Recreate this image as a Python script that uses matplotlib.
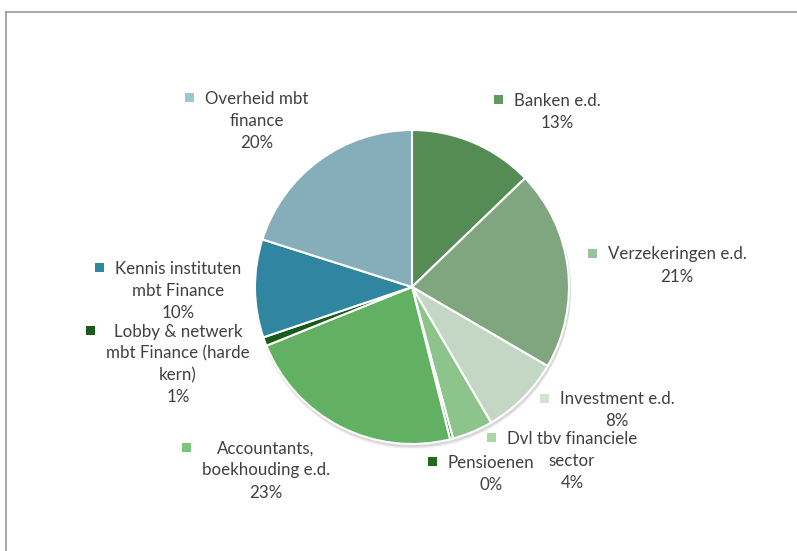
import matplotlib
matplotlib.use("Agg")
import matplotlib.pyplot as plt
from matplotlib.patches import Circle, Rectangle

plt.rcParams['font.family'] = ['Lato', 'DejaVu Sans']

# data
categories = ["Banken e.d.", "Verzekeringen e.d.", "Investment e.d.",
              "Dvl tbv financiele\nsector", "Pensioenen",
              "Accountants,\nboekhouding e.d.",
              "Lobby & netwerk\nmbt Finance (harde\nkern)",
              "Kennis instituten\nmbt Finance", "Overheid mbt\nfinance"]
shares = [12.8, 20.6, 8.2, 4.2, 0.3, 22.8, 0.9, 10.1, 20.1]
colors = ["#548c54", "#80a680", "#c4d6c4", "#8cc48c", "#1e6b1e",
          "#62b062", "#1a5a1a", "#3086a0", "#86aeba"]
legend_colors = ["#5f9a5f", "#9cc29c", "#d3e3d3", "#a8d8a8", "#1e6b1e",
                 "#7cc47c", "#1a5a1a", "#3086a0", "#9ec6d2"]

# label layout (pixel coords of the picture: block centre x, first line y)
label_pos = [(557, 99), (677, 253), (617, 398), (572, 437), (491, 461),
             (266, 447), (178, 330), (178, 267), (257, 97)]
line_h = 22

W, H = 797, 551
fig = plt.figure(figsize=(W / 100, H / 100), dpi=100)
ax = fig.add_axes([0, 0, 1, 1])

cx, cy, r = 412, H - 287, 157

# soft shadow under the pie
for k, a in [(4, 0.04), (3, 0.05), (2, 0.07)]:
    ax.add_patch(Circle((cx + 1, cy - k), r + 1, color='black', alpha=a, lw=0, zorder=1))

ax.pie(shares, colors=colors, startangle=90, counterclock=False,
       center=(cx, cy), radius=r, frame=True,
       wedgeprops=dict(edgecolor='white', linewidth=1.5, zorder=2))
ax.set_xlim(0, W)
ax.set_ylim(0, H)
ax.axis('off')

# chart area frame
ax.plot([6.5, 6.5], [0, H - 11.5], color='#9a9a9a', lw=1.2)
ax.plot([6.5, W], [H - 11.5, H - 11.5], color='#9a9a9a', lw=1.2)

renderer = fig.canvas.get_renderer()
for name, val, col, (px, py) in zip(categories, shares, legend_colors, label_pos):
    lines = name.split("\n") + ["%d%%" % round(val)]
    x0 = px
    for i, line in enumerate(lines):
        t = ax.text(px, H - py - i * line_h, line, ha='center', va='center_baseline',
                    fontsize=12.2, color='#404040', zorder=5)
        x0 = min(x0, t.get_window_extent(renderer).x0)
    ax.add_patch(Rectangle((x0 - 20, H - py - 4.5), 9, 9, color=col, lw=0, zorder=5))

fig.savefig("out.png", dpi=100)
